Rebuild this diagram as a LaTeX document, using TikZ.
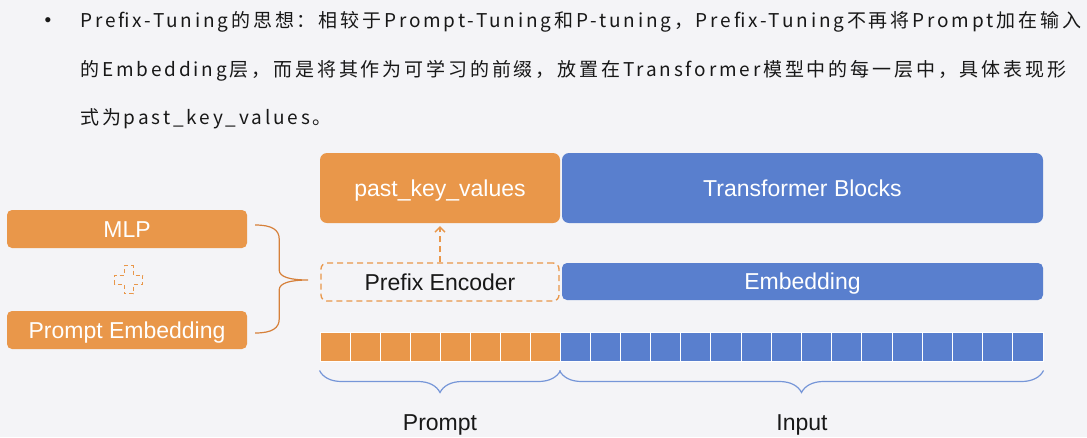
\documentclass[tikz,border=0pt]{standalone}
\usepackage{fontspec}
\setmainfont{Liberation Sans}
\newfontfamily\zhfont[LetterSpace=15]{Noto Sans CJK SC}
\usepackage{tikz}
\usetikzlibrary{arrows.meta,positioning,decorations.pathreplacing}
\definecolor{pt-orange}{RGB}{233,151,74}
\definecolor{pt-blue}{RGB}{89,127,206}
\definecolor{pt-bg}{RGB}{244,244,247}
\definecolor{pt-brace}{RGB}{118,150,216}
\definecolor{pt-bracket}{RGB}{214,128,58}
\definecolor{pt-text}{RGB}{24,24,24}
\tikzset{
  pt-block/.style={rounded corners=7pt, text=white, inner sep=0pt, align=center,
    text height=16.5pt, text depth=0pt, font=\fontsize{23}{27}\selectfont},
  pt-orange-block/.style={pt-block, fill=pt-orange},
  pt-blue-block/.style={pt-block, fill=pt-blue},
  pt-dashed-block/.style={draw=pt-orange, line width=1.3pt, dash pattern=on 6pt off 4pt,
    rounded corners=6pt, inner sep=0pt, text=pt-text, text height=16.5pt, text depth=0pt,
    font=\fontsize{23}{27}\selectfont},
  pt-cell/.style={draw=white, line width=1pt, minimum height=29pt, inner sep=0pt},
  pt-label/.style={anchor=base, inner sep=0pt, text=pt-text, font=\fontsize{23}{27}\selectfont},
  pt-line/.style={anchor=base west, inner sep=0pt, text=pt-text, font=\zhfont\fontsize{19}{24}\selectfont},
  pt-brace-line/.style={draw=pt-brace, line width=1.2pt, decorate},
  pt-bracket-line/.style={draw=pt-bracket, line width=1.2pt}
}
\begin{document}
\begin{tikzpicture}[x=1pt, y=-1pt, >=Latex]
  \useasboundingbox (0,0) rectangle (1087,437);
  \fill[pt-bg] (0,0) rectangle (1087,437);

  % bullet text
  \node[anchor=base, inner sep=0pt, text=pt-text, font=\fontsize{19}{22}\selectfont] (bullet) at (48,26) {•};
  \node[pt-line] (line1) at (80,27) {Prefix-Tuning的思想：相较于Prompt-Tuning和P-tuning，Prefix-Tuning不再将Prompt加在输入};
  \node[pt-line] (line2) at (80,76) {的Embedding层，而是将其作为可学习的前缀，放置在Transformer模型中的每一层中，具体表现形};
  \node[pt-line] (line3) at (80,124) {式为past\_key\_values。};

  % left side
  \node[pt-orange-block, rounded corners=5pt, minimum width=240pt, minimum height=38pt] (mlp) at (127,229) {MLP};
  \node[pt-orange-block, rounded corners=5pt, minimum width=240pt, minimum height=38pt] (pemb) at (127,330) {Prompt Embedding};
  \draw[pt-orange, line width=0.9pt, dash pattern=on 4pt off 3pt]
    (128.5,279.5) ++(-4.5,-14) -- ++(9,0) -- ++(0,9.5) -- ++(9.5,0) -- ++(0,9) -- ++(-9.5,0)
    -- ++(0,9.5) -- ++(-9,0) -- ++(0,-9.5) -- ++(-9.5,0) -- ++(0,-9) -- ++(9.5,0) -- cycle;
  \coordinate (br-top) at ([xshift=8pt,yshift=4pt]mlp.east);
  \coordinate (br-bot) at ([xshift=8pt,yshift=-3pt]pemb.east);
  \draw[pt-bracket-line] (br-top) .. controls +(17,0) and +(0,-9) .. ++(24,14) -- ++(0,31)
    .. controls +(0,7) and +(-18,0) .. ++(29,10)
    .. controls +(-18,0) and +(0,-7) .. ++(-29,10) -- ++(0,29)
    .. controls +(0,9) and +(17,0) .. (br-bot);

  % model blocks
  \node[pt-orange-block, minimum width=240pt, minimum height=70pt] (pkv) at (440,188) {past\_key\_values};
  \node[pt-blue-block, minimum width=481pt, minimum height=70pt] (tblocks) at (802.5,188) {Transformer Blocks};
  \node[pt-dashed-block, minimum width=238pt, minimum height=38pt] (penc) at (440,282) {Prefix Encoder};
  \node[pt-blue-block, rounded corners=5pt, minimum width=481pt, minimum height=37pt] (emb) at (802.5,281.5) {Embedding};
  \draw[pt-orange, line width=1.3pt, dash pattern=on 6pt off 4pt, -{Straight Barb[length=5pt,width=10pt]}, shorten >=3pt]
    (penc.north) -- (pkv.south);

  % token row
  \foreach \i in {0,...,7}
    \node[pt-cell, fill=pt-orange, minimum width=30pt] (p\i) at ({335+30*\i},346.5) {};
  \foreach \i in {0,...,15}
    \node[pt-cell, fill=pt-blue, minimum width=30.19pt] (t\i) at ({560+30.19*(\i+0.5)},346.5) {};

  \draw[pt-brace-line, decoration={brace, mirror, amplitude=22pt}]
    ([yshift=-9pt]p0.south west) -- ([yshift=-9pt]p7.south east);
  \draw[pt-brace-line, decoration={brace, mirror, amplitude=22pt}]
    ([yshift=-9pt]t0.south west) -- ([yshift=-9pt]t15.south east);
  \node[pt-label] (prompt) at (440,430) {Prompt};
  \node[pt-label] (input) at (802,430) {Input};
\end{tikzpicture}
\end{document}
